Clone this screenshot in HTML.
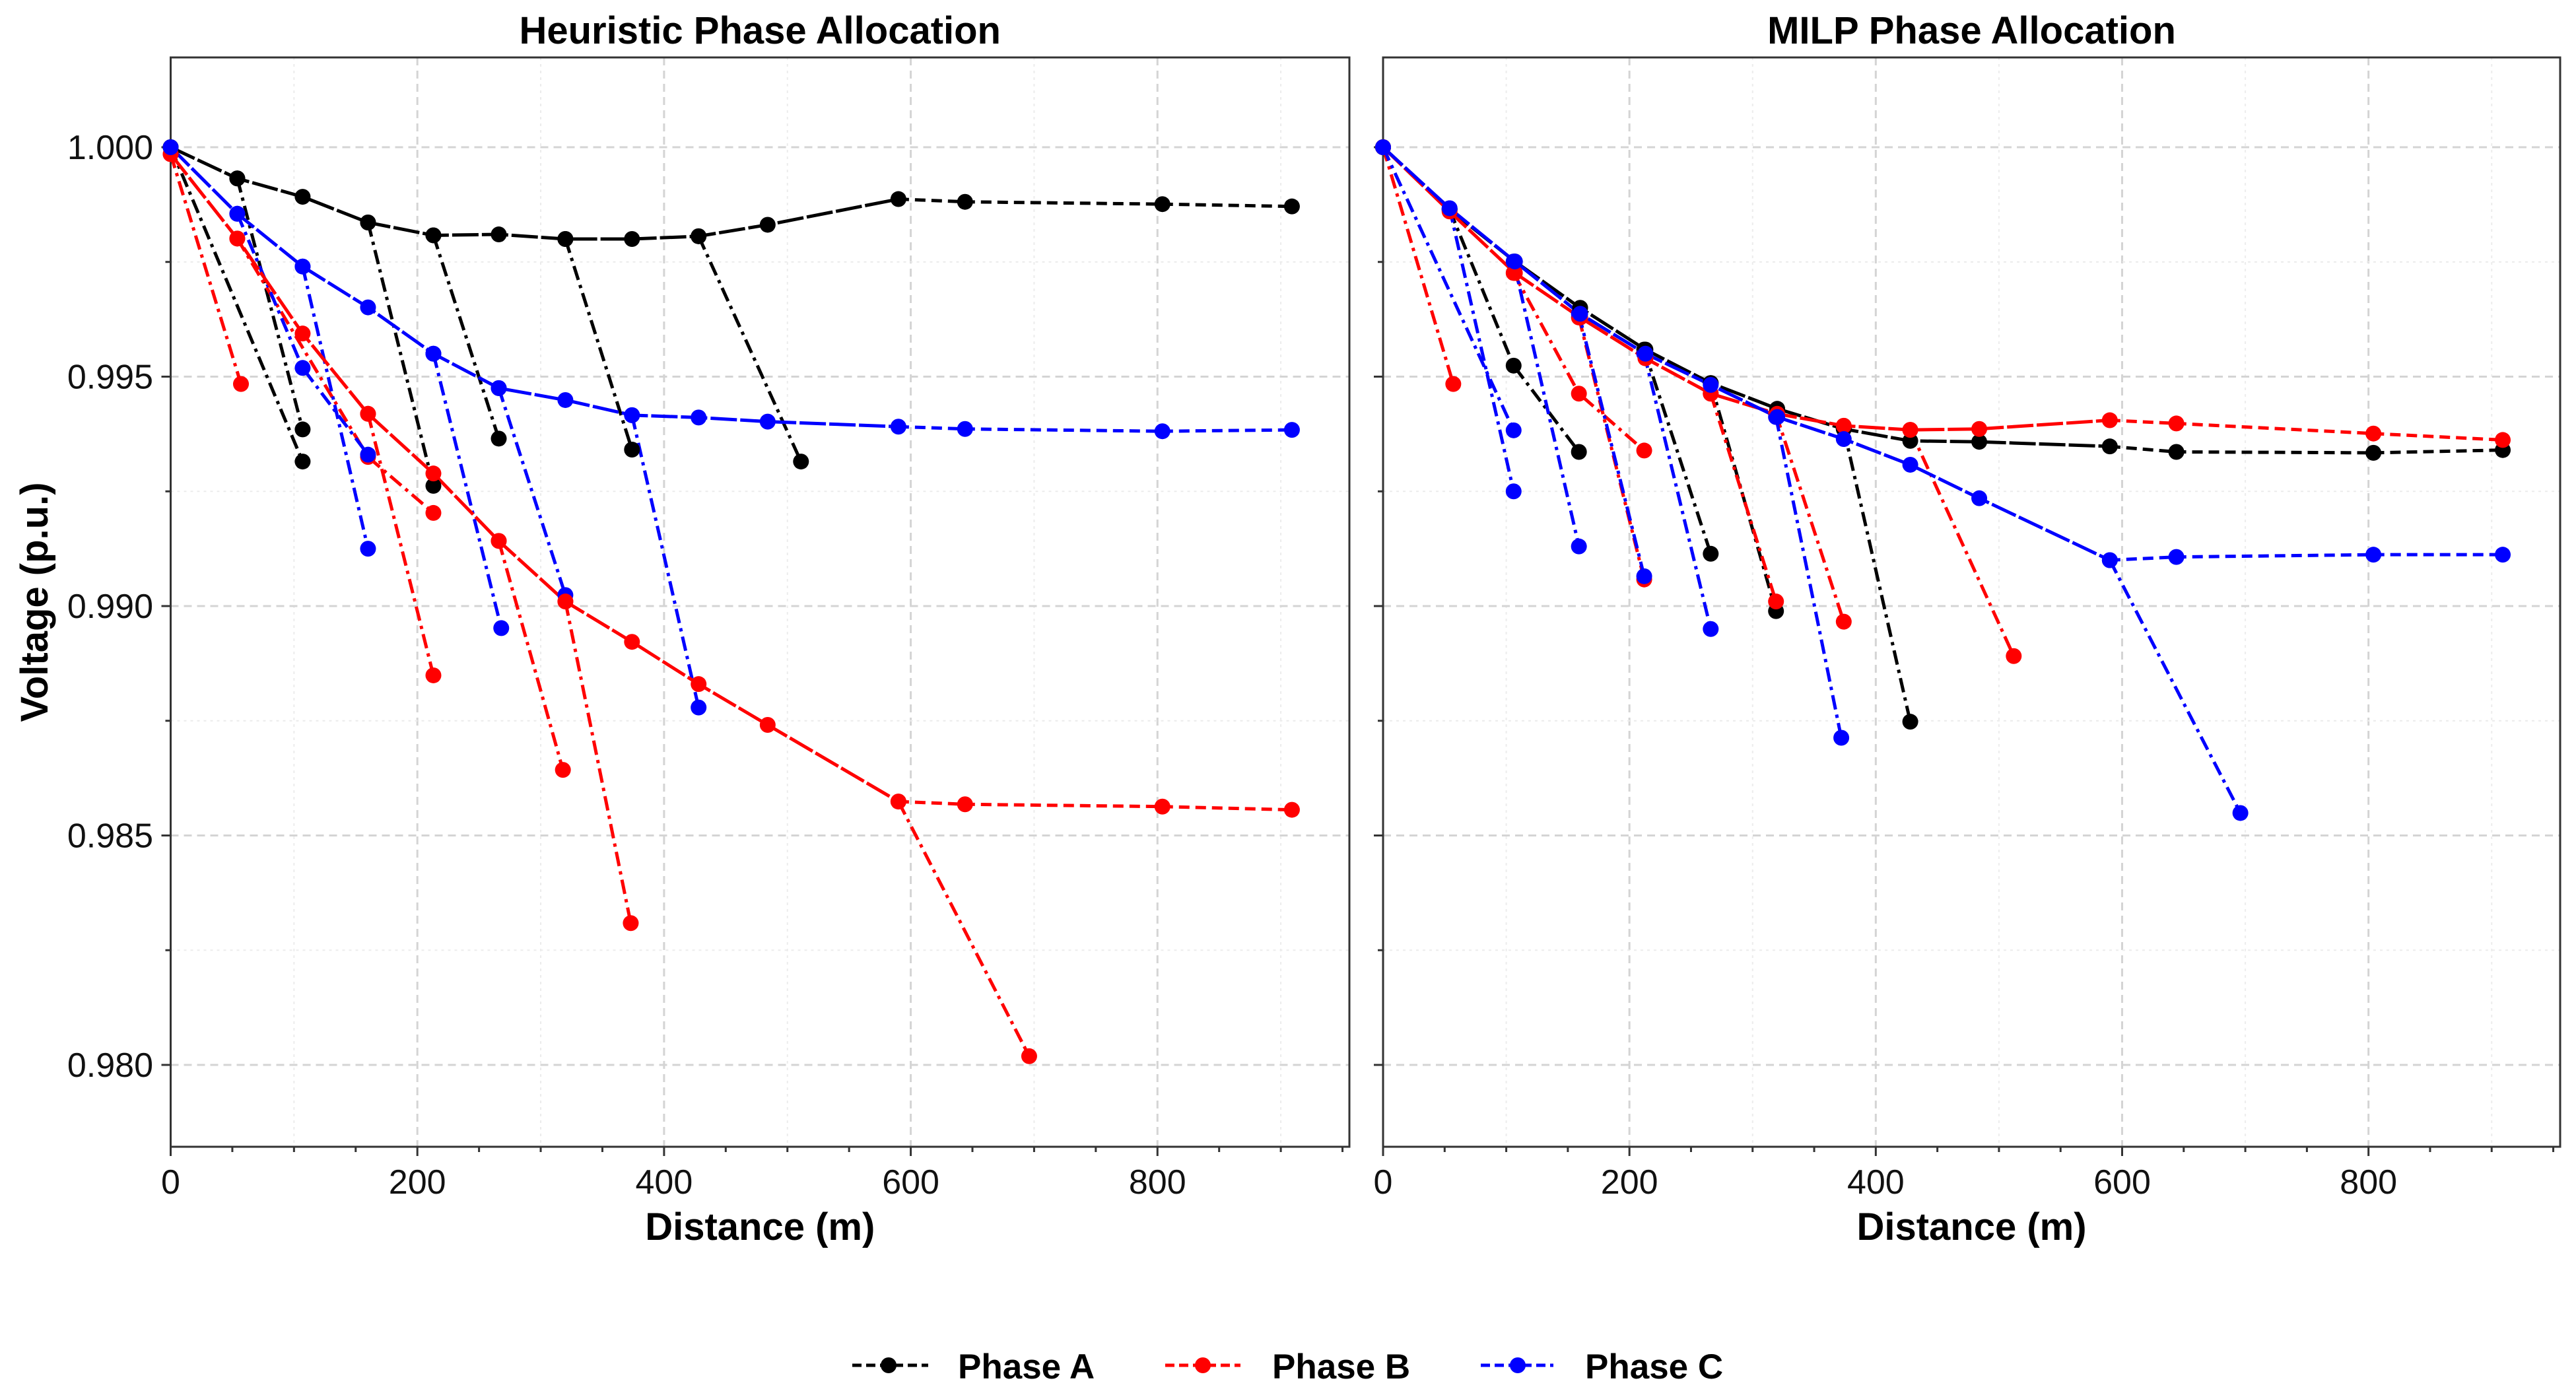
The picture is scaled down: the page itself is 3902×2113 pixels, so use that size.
<!DOCTYPE html>
<html><head><meta charset="utf-8"><style>
html,body{margin:0;padding:0;background:#fff;}
svg{display:block;font-family:"Liberation Sans",Arial,sans-serif;}
</style></head><body>
<svg id="chart" width="3902" height="2113" viewBox="0 0 3902 2113" xmlns="http://www.w3.org/2000/svg">
<rect width="3902" height="2113" fill="#fff"/>
<g id="layer"></g>
<g>
 <g>
  <line x1="1291" y1="2068" x2="1406" y2="2068" stroke="#000" stroke-width="5" stroke-dasharray="14,7"/>
  <circle cx="1346" cy="2068" r="12" fill="#000"/>
  <text x="1451" y="2088" font-size="53" font-weight="bold">Phase A</text>
 </g>
 <g>
  <line x1="1765" y1="2068" x2="1879" y2="2068" stroke="#f00" stroke-width="5" stroke-dasharray="14,7"/>
  <circle cx="1822" cy="2068" r="12" fill="#f00"/>
  <text x="1927" y="2088" font-size="53" font-weight="bold">Phase B</text>
 </g>
 <g>
  <line x1="2243" y1="2068" x2="2353" y2="2068" stroke="#00f" stroke-width="5" stroke-dasharray="14,7"/>
  <circle cx="2299" cy="2068" r="12" fill="#00f"/>
  <text x="2401" y="2088" font-size="53" font-weight="bold">Phase C</text>
 </g>
</g>
</svg>
<script>
// ---- data ----
const trunkDist = [0,54,107,160,213,266,320,374,428,484,590,644,804,909];
const heurA = [1.0,0.99932,0.99892,0.99836,0.99808,0.99810,0.99800,0.99800,0.99806,0.99831,0.99887,0.99881,0.99876,0.99871];
const heurB = [0.99985,0.99801,0.99594,0.99419,0.99289,0.99142,0.99010,0.98922,0.98830,0.98741,0.98574,0.98568,0.98563,0.98556];
const heurC = [1.0,0.99855,0.99740,0.99651,0.99550,0.99475,0.99449,0.99416,0.99411,0.99402,0.99391,0.99386,0.99381,0.99384];
const milpA = [1.0,0.99864,0.99751,0.99650,0.99559,0.99486,0.99430,0.99386,0.99360,0.99358,0.99348,0.99336,0.99334,0.99340];
const milpB = [1.0,0.99860,0.99726,0.99629,0.99540,0.99463,0.99419,0.99393,0.99384,0.99386,0.99405,0.99398,0.99376,0.99362];
const milpC = [1.0,0.99867,0.99751,0.99637,0.99550,0.99482,0.99412,0.99364,0.99308,0.99235,0.99100,0.99107,0.99112,0.99112];
// branches: [distances], [voltages]
const heurBranchA = [
 [[0,107],[1.0,0.99315]],
 [[54,107],[0.99932,0.99385]],
 [[160,213],[0.99836,0.99262]],
 [[213,266],[0.99808,0.99365]],
 [[320,374],[0.99800,0.99341]],
 [[428,511],[0.99806,0.99315]]
];
const heurBranchB = [
 [[0,57],[0.99985,0.99484]],
 [[54,160,213],[0.99801,0.99325,0.99203]],
 [[160,213],[0.99419,0.98849]],
 [[266,318],[0.99142,0.98643]],
 [[320,373],[0.99010,0.98309]],
 [[590,696],[0.98574,0.98019]]
];
const heurBranchC = [
 [[54,107,160],[0.99855,0.99519,0.99330]],
 [[107,160],[0.99740,0.99125]],
 [[213,268],[0.99550,0.98952]],
 [[266,320],[0.99475,0.99024]],
 [[374,428],[0.99416,0.98779]]
];
const milpBranchA = [
 [[54,106,159],[0.99864,0.99524,0.99336]],
 [[212,266],[0.99559,0.99114]],
 [[266,319],[0.99486,0.98989]],
 [[374,428],[0.99386,0.98748]]
];
const milpBranchB = [
 [[0,57],[1.0,0.99484]],
 [[106,159,212],[0.99726,0.99463,0.99339]],
 [[159,212],[0.99629,0.99058]],
 [[266,319],[0.99463,0.99010]],
 [[319,374],[0.99419,0.98966]],
 [[428,512],[0.99384,0.98891]]
];
const milpBranchC = [
 [[0,106],[1.0,0.99383]],
 [[54,106],[0.99867,0.99250]],
 [[106,159],[0.99751,0.99130]],
 [[159,212],[0.99637,0.99065]],
 [[212,266],[0.99550,0.98950]],
 [[319,372],[0.99412,0.98713]],
 [[590,696],[0.99100,0.98549]]
];
const xTicks = [0,200,400,600,800];
const yTicks = [0.980,0.985,0.990,0.995,1.000];
const yTickLabels = ["0.980","0.985","0.990","0.995","1.000"];

// ---- drawing ----
const NS = "http://www.w3.org/2000/svg";
const layer = document.getElementById('layer');
function mk(tag, attrs, parent){
  const e = document.createElementNS(NS, tag);
  for (const k in attrs) e.setAttribute(k, attrs[k]);
  (parent||layer).appendChild(e);
  return e;
}
const Y0 = 87, Y1 = 1737, XMAX = 955.6, YMIN = 0.978216, YMAX = 1.001957;

function panel(left, right, title, tA, tB, tC, bA, bB, bC, showY, key){
  const sx = v => left + v/XMAX*(right-left);
  const sy = v => Y1 - (v-YMIN)/(YMAX-YMIN)*(Y1-Y0);
  const g = mk('g', {});
  
  
  for (let v=100; v<XMAX; v+=100){
    const major = v%200===0;
    const l = mk('line',{x1:sx(v),x2:sx(v),y1:Y0,y2:Y1,stroke:major?'#d4d4d4':'#ececec','stroke-width':major?3:2,'stroke-dasharray':major?'12,8':'4,6'},g);
    
    
  }
  for (let i=0;i<10;i++){
    const v = 0.9775 + i*0.0025;
    if (v<YMIN||v>YMAX) continue;
    const major = Math.abs(Math.round(v*200)-v*200)<1e-6;
    const l = mk('line',{x1:left,x2:right,y1:sy(v),y2:sy(v),stroke:major?'#d4d4d4':'#ececec','stroke-width':major?3:2,'stroke-dasharray':major?'12,8':'4,6'},g);
    
    
  }
  const fr = mk('rect',{x:left,y:Y0,width:right-left,height:Y1-Y0,fill:'none',stroke:'#333','stroke-width':3},g);
  
  
  for (let v=0; v<XMAX; v+=50){
    const major = v%200===0;
    mk('line',{x1:sx(v),x2:sx(v),y1:Y1,y2:Y1+(major?14:8),stroke:'#333','stroke-width':3},g);
  }
  xTicks.forEach(v=>{
    const t = mk('text',{x:sx(v),y:1808,'font-size':52,'text-anchor':'middle',fill:'#111'},g);
    t.textContent = v;
    
    
  });
  for (let i=0;i<10;i++){
    const v = 0.9775 + i*0.0025;
    if (v<YMIN||v>YMAX) continue;
    const major = Math.abs(Math.round(v*200)-v*200)<1e-6;
    mk('line',{x1:left-(major?14:8),x2:left,y1:sy(v),y2:sy(v),stroke:'#333','stroke-width':3},g);
  }
  if (showY){
    yTicks.forEach((v,i)=>{
      const t = mk('text',{x:232,y:sy(v)+18,'font-size':52,'text-anchor':'end',fill:'#111'},g);
      t.textContent = yTickLabels[i];
      
      
    });
  }
  const tt = mk('text',{x:(left+right)/2,y:66,'font-size':58,'font-weight':'bold','text-anchor':'middle'},g);
  tt.textContent = title;
  
  
  const xt = mk('text',{x:(left+right)/2,y:1878,'font-size':58,'font-weight':'bold','text-anchor':'middle'},g);
  xt.textContent = 'Distance (m)';
  
  

  const colors = ['#000','#f00','#00f'];
  const names = ['phase-a','phase-b','phase-c'];
  const points = [];
  [bA,bB,bC].forEach((branches,pi)=>{
    branches.forEach(br=>{
      const d = br[0].map((x,i)=>(i?'L':'M')+sx(x)+','+sy(br[1][i])).join(' ');
      const p = mk('path',{d:d,fill:'none',stroke:colors[pi],'stroke-width':5,'stroke-dasharray':'22,8,5,8'},g);
      
      
      br[0].forEach((x,i)=>points.push([sx(x),sy(br[1][i]),pi]));
    });
  });
  [tA,tB,tC].forEach((vals,pi)=>{
    const cut = 10;
    const d1 = trunkDist.slice(0,cut+1).map((x,i)=>(i?'L':'M')+sx(x)+','+sy(vals[i])).join(' ');
    const d2 = trunkDist.slice(cut).map((x,i)=>(i?'L':'M')+sx(x)+','+sy(vals[i+cut])).join(' ');
    const p1 = mk('path',{d:d1,fill:'none',stroke:colors[pi],'stroke-width':5,'stroke-dasharray':'40,5'},g);
    
    
    const p2 = mk('path',{d:d2,fill:'none',stroke:colors[pi],'stroke-width':5,'stroke-dasharray':'16,9'},g);
    
    
    trunkDist.forEach((x,i)=>points.push([sx(x),sy(vals[i]),pi]));
  });
  points.forEach(pt=>{
    const c = mk('circle',{cx:pt[0],cy:pt[1],r:12,fill:colors[pt[2]]},g);
    
    
  });
}
panel(258.5, 2044, 'Heuristic Phase Allocation', heurA, heurB, heurC, heurBranchA, heurBranchB, heurBranchC, true, 'heuristic');
panel(2095, 3878, 'MILP Phase Allocation', milpA, milpB, milpC, milpBranchA, milpBranchB, milpBranchC, false, 'milp');
const yt = mk('text',{x:0,y:0,'font-size':58,'font-weight':'bold','text-anchor':'middle',transform:'translate(72,912) rotate(-90)'});
yt.textContent = 'Voltage (p.u.)';


</script>
</body></html>
